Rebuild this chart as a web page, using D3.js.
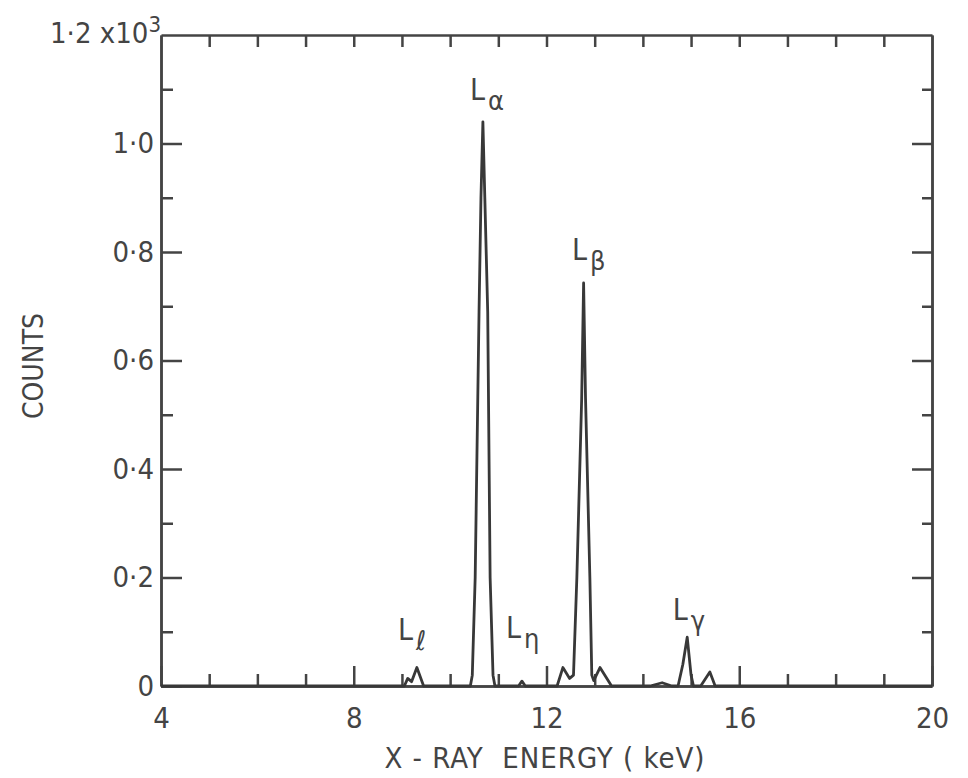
<!DOCTYPE html>
<html lang="en">
  <head>
    <meta charset="UTF-8" />
    <title>X-ray L spectrum</title>
    <script src="https://cdnjs.cloudflare.com/ajax/libs/d3/7.8.5/d3.min.js"></script>
    <style>
      body {
        margin: 0;
        background: #fff;
      }
      text {
        font-family: "Liberation Sans Narrow", "DejaVu Sans Condensed", sans-serif;
        fill: #444;
      }
      .axis path,
      .axis line {
        stroke: #444;
        stroke-width: 2.5;
      }
      .axis text {
        font-size: 29px;
      }
      .spectrum {
        fill: none;
        stroke: #383838;
        stroke-width: 2.8;
        stroke-linejoin: round;
      }
    </style>
  </head>
  <body>
    <div id="chart"></div>
    <script>
      // spectrum (energy in keV, counts in units of 10^3)
      const energy = [
        4.0, 9.05, 9.12, 9.2, 9.31, 9.45,
        10.42, 10.46, 10.52, 10.6, 10.64, 10.68, 10.72, 10.78, 10.83, 10.89, 10.93,
        11.42, 11.49, 11.56,
        12.22, 12.34, 12.48, 12.56, 12.63, 12.73, 12.77, 12.81, 12.9, 12.94, 12.98, 13.11, 13.35,
        14.15, 14.4, 14.6, 14.73, 14.83, 14.92, 15.0, 15.05, 15.2, 15.39, 15.5,
        20.0
      ];
      const counts = [
        0, 0, 0.014, 0.008, 0.034, 0,
        0, 0.02, 0.2, 0.69, 0.9, 1.04, 0.9, 0.69, 0.2, 0.02, 0,
        0, 0.009, 0,
        0, 0.034, 0.014, 0.02, 0.2, 0.53, 0.743, 0.53, 0.2, 0.02, 0.01, 0.034, 0,
        0, 0.006, 0, 0, 0.04, 0.09, 0.02, 0, 0, 0.026, 0,
        0
      ];

      const xMajor = [4, 8, 12, 16, 20];
      const xMinor = [5, 6, 7, 9, 10, 11, 13, 14, 15, 17, 18, 19];
      const yMajor = [0, 0.2, 0.4, 0.6, 0.8, 1.0, 1.2];
      const yMinor = [0.1, 0.3, 0.5, 0.7, 0.9, 1.1];
      const yTickLabels = ["0", "0·2", "0·4", "0·6", "0·8", "1·0", "1·2 x10"];

      // peak labels: where the "L" starts, and its subscript
      const lineNames = ["ℓ", "α", "η", "β", "γ"];
      const labelEnergy = [8.92, 10.41, 11.16, 12.53, 14.62];
      const labelCounts = [0.085, 1.08, 0.088, 0.785, 0.122];

      const width = 968;
      const height = 778;

      const svg = d3
        .select("#chart")
        .append("svg")
        .attr("width", width)
        .attr("height", height);

      const xScale = d3.scaleLinear().domain([4, 20]).range([161, 932]);
      const yScale = d3.scaleLinear().domain([0, 1.2]).range([686, 35]);

      // bottom axis: long inward ticks with labels, short minor ticks
      svg
        .append("g")
        .attr("class", "axis")
        .attr("transform", `translate(0,${yScale(0)})`)
        .call(
          d3
            .axisBottom(xScale)
            .tickValues(xMajor)
            .tickSizeInner(-20)
            .tickSizeOuter(0)
            .tickPadding(21)
            .tickFormat((d) => d)
        );
      svg
        .append("g")
        .attr("class", "axis")
        .attr("transform", `translate(0,${yScale(0)})`)
        .call(
          d3.axisBottom(xScale).tickValues(xMinor).tickSizeInner(-12).tickSizeOuter(0).tickFormat("")
        );

      // top axis
      svg
        .append("g")
        .attr("class", "axis")
        .attr("transform", `translate(0,${yScale(1.2)})`)
        .call(
          d3
            .axisTop(xScale)
            .tickValues(xMinor.concat(xMajor.slice(1, -1)))
            .tickSizeInner(-12)
            .tickSizeOuter(0)
            .tickFormat("")
        );

      // left axis
      const left = svg
        .append("g")
        .attr("class", "axis")
        .attr("transform", `translate(${xScale(4)},0)`)
        .call(
          d3
            .axisLeft(yScale)
            .tickValues(yMajor)
            .tickSizeInner(-21)
            .tickSizeOuter(0)
            .tickPadding(7)
            .tickFormat((d, i) => yTickLabels[i])
        );
      left.selectAll(".tick line").filter((d) => d === 1.2).remove();
      left
        .selectAll(".tick text")
        .filter((d) => d === 1.2)
        .attr("dx", 7)
        .attr("dy", "0.25em")
        .append("tspan")
        .attr("dy", "-0.5em")
        .style("font-size", "22px")
        .text("3");
      svg
        .append("g")
        .attr("class", "axis")
        .attr("transform", `translate(${xScale(4)},0)`)
        .call(
          d3.axisLeft(yScale).tickValues(yMinor).tickSizeInner(-12).tickSizeOuter(0).tickFormat("")
        );

      // right axis
      svg
        .append("g")
        .attr("class", "axis")
        .attr("transform", `translate(${xScale(20)},0)`)
        .call(
          d3
            .axisRight(yScale)
            .tickValues(yMajor.slice(1, -1))
            .tickSizeInner(-20)
            .tickSizeOuter(0)
            .tickFormat("")
        );
      svg
        .append("g")
        .attr("class", "axis")
        .attr("transform", `translate(${xScale(20)},0)`)
        .call(
          d3.axisRight(yScale).tickValues(yMinor).tickSizeInner(-10).tickSizeOuter(0).tickFormat("")
        );

      // spectrum
      const points = energy.map((e, i) => [e, counts[i]]);
      const line = d3
        .line()
        .x((d) => xScale(d[0]))
        .y((d) => yScale(d[1]));
      svg.append("path").attr("class", "spectrum").attr("d", line(points));

      // peak labels
      lineNames.forEach((name, i) => {
        const t = svg
          .append("text")
          .attr("x", xScale(labelEnergy[i]))
          .attr("y", yScale(labelCounts[i]))
          .style("font-size", "30px")
          .text("L");
        t.append("tspan")
          .attr("dx", 3)
          .attr("dy", 10)
          .style("font-size", "27px")
          .text(name);
      });

      // axis titles
      svg
        .append("text")
        .attr("x", 545)
        .attr("y", 768)
        .attr("text-anchor", "middle")
        .style("font-size", "29px")
        .style("letter-spacing", "1px")
        .attr("xml:space", "preserve")
        .text("X - RAY  ENERGY ( keV)");

      svg
        .append("text")
        .attr("transform", "translate(43,366) rotate(-90)")
        .attr("text-anchor", "middle")
        .style("font-size", "28px")
        .text("COUNTS");
    </script>
  </body>
</html>
